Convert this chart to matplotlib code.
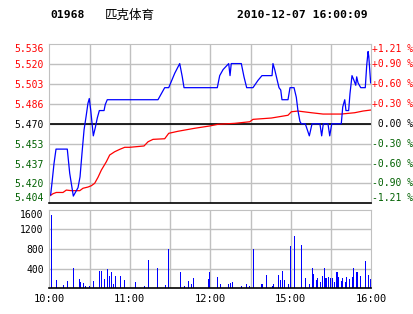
import matplotlib
matplotlib.use("Agg")
import matplotlib.pyplot as plt
import numpy as np

# --------------DATI (minuti dalle 10:00)----------------------
price_t = [1.0, 2.0, 3.5, 5.0, 13.4, 15.2, 16.9, 17.9, 21.4, 22.9, 24.4, 25.9, 27.4, 28.8, 29.8,
           30.9, 31.8, 32.8, 34.3, 35.8, 37.3, 40.8, 41.7, 43.2, 81.0, 86.0, 89.0, 93.5, 97.2,
           99.1, 100.4, 125.2, 127.0, 129.5, 133.7, 134.7, 135.6, 143.1, 145.1, 147.1, 151.8,
           155.5, 158.5, 166.0, 166.7, 168.0, 169.9, 171.2, 172.5, 173.4, 177.9, 179.4, 182.4,
           184.1, 185.3, 186.8, 187.8, 190.8, 193.8, 195.8, 201.7, 203.0, 204.2, 207.7, 209.0,
           210.5, 217.6, 218.7, 220.2, 221.1, 223.1, 224.1, 225.6, 227.1, 228.4, 229.1, 230.1,
           232.1, 235.5, 236.6, 237.6, 238.1, 239.0, 239.5]
price_v = [5.411, 5.421, 5.437, 5.449, 5.449, 5.429, 5.417, 5.410, 5.417, 5.426, 5.446, 5.465,
           5.476, 5.487, 5.491, 5.481, 5.471, 5.460, 5.467, 5.475, 5.481, 5.481, 5.486, 5.490,
           5.490, 5.500, 5.500, 5.512, 5.520, 5.509, 5.500, 5.500, 5.510, 5.515, 5.520, 5.510,
           5.520, 5.520, 5.509, 5.500, 5.500, 5.506, 5.510, 5.510, 5.520, 5.515, 5.506, 5.500,
           5.498, 5.490, 5.490, 5.500, 5.500, 5.492, 5.481, 5.472, 5.470, 5.470, 5.460, 5.470,
           5.470, 5.460, 5.470, 5.470, 5.460, 5.470, 5.470, 5.484, 5.490, 5.481, 5.481, 5.495,
           5.510, 5.506, 5.502, 5.509, 5.504, 5.500, 5.500, 5.519, 5.530, 5.526, 5.512, 5.504]

avg_t = [0.1, 2.8, 5.2, 10.2, 12.7, 16.4, 22.7, 25.1, 28.8, 31.3, 33.8, 36.3, 38.8, 42.5, 45.0,
         48.7, 52.5, 56.2, 59.9, 70.6, 73.6, 77.3, 86.0, 89.0, 95.9, 108.4, 119.5, 125.7, 138.2,
         149.4, 151.8, 165.5, 177.9, 180.4, 185.3, 195.3, 204.0, 217.6, 227.6, 233.8, 240.0]
avg_v = [5.410, 5.412, 5.413, 5.413, 5.415, 5.4145, 5.4145, 5.4165, 5.4175, 5.4186, 5.4206,
         5.4256, 5.4316, 5.4385, 5.4441, 5.4468, 5.4488, 5.4505, 5.4505, 5.4516, 5.4551, 5.4571,
         5.4576, 5.4621, 5.4638, 5.4663, 5.4682, 5.4696, 5.4704, 5.4717, 5.4737, 5.4748, 5.4771,
         5.4800, 5.4806, 5.4792, 5.4781, 5.4781, 5.4792, 5.4806, 5.4815]

vol_t = [1.5, 5.2, 10.4, 13.7, 17.9, 22.4, 23.1, 25.3, 26.8, 29.8, 32.8, 37.3, 38.8, 41.0, 43.2,
         44.7, 46.2, 47.7, 49.2, 52.9, 55.9, 64.1, 70.8, 73.8, 80.5, 86.5, 88.7, 97.6, 100.6,
         103.6, 105.8, 107.3, 118.5, 119.2, 125.2, 127.4, 133.4, 134.9, 136.4, 143.1, 146.8,
         149.1, 152.0, 158.7, 161.7, 166.2, 166.9, 170.7, 172.2, 173.7, 175.1, 178.1, 179.6,
         182.6, 187.8, 190.8, 193.8, 196.0, 196.8, 199.0, 199.7, 202.0, 203.5, 205.0, 206.4,
         207.9, 209.4, 210.9, 212.4, 214.6, 215.4, 217.6, 218.4, 220.6, 221.4, 223.6, 225.8,
         226.6, 228.8, 229.5, 231.8, 235.5, 237.8, 239.2]
vol_v = [1500, 175, 70, 140, 406, 196, 126, 105, 50, 50, 140, 343, 343, 196, 385, 245, 329, 91,
         245, 259, 175, 133, 50, 574, 406, 70, 805, 322, 50, 154, 91, 217, 196, 322, 238, 91, 91,
         112, 133, 50, 91, 50, 805, 91, 280, 50, 91, 280, 175, 343, 161, 91, 868, 1057, 889, 217,
         91, 406, 301, 175, 217, 133, 259, 406, 217, 238, 217, 217, 133, 322, 238, 154, 217, 133,
         238, 196, 238, 406, 238, 322, 259, 553, 280, 196]

prev_close = 5.470
price_labels = ["5.536", "5.520", "5.503", "5.486", "5.470", "5.453", "5.437", "5.420", "5.404"]
pct_labels = ["+1.21 %", "+0.90 %", "+0.60 %", "+0.30 %", " 0.00 %", "-0.30 %", "-0.60 %", "-0.90 %", "-1.21 %"]
vol_ticks = [400, 800, 1200, 1600]
time_ticks = [0, 60, 120, 180, 240]
time_labels = ["10:00", "11:00", "12:00", "15:00", "16:00"]

GRAY = "#c0c0c0"
RED = "#ff0000"
GREEN = "#006000"
MONO = "DejaVu Sans Mono"
FS = 7.0

price_ticks = np.linspace(5.536, 5.404, 9)

fig = plt.figure(figsize=(4.14, 3.14), dpi=100)
ax1 = fig.add_axes([0.1191, 0.3525, 0.7778, 0.5064])
ax2 = fig.add_axes([0.1191, 0.0818, 0.7778, 0.2503])

# --------------PANNELLO PREZZO----------------------
ax1.set_xlim(0, 240)
ax1.set_ylim(5.404, 5.536)
for t in range(30, 240, 30):
    ax1.axvline(t, color=GRAY, lw=1.0, zorder=0)
for p in price_ticks[1:-1]:
    ax1.axhline(p, color=GRAY, lw=1.0, zorder=0)
ax1.axhline(prev_close, color="black", lw=1.2, zorder=1)

ax1.plot(avg_t, avg_v, color=RED, lw=0.9, zorder=2)
ax1.plot(price_t, price_v, color="#0000ff", lw=0.9, zorder=3)

for s in ["left", "top", "right"]:
    ax1.spines[s].set_color(GRAY)
ax1.spines["bottom"].set_color("black")
ax1.spines["bottom"].set_linewidth(1.2)
ax1.set_xticks([])
ax1.set_yticks(price_ticks)
ax1.set_yticklabels(price_labels, family=MONO, fontsize=FS)
ax1.tick_params(axis="y", length=0, pad=4)
labs = ax1.get_yticklabels()
for i, lab in enumerate(labs):
    lab.set_color(RED if i < 4 else ("black" if i == 4 else GREEN))
labs[0].set_va("top")
labs[-1].set_va("bottom")

# percentuali sul lato destro
trans = ax1.get_yaxis_transform()
for i, (p, lab) in enumerate(zip(price_ticks, pct_labels)):
    c = RED if i < 4 else ("black" if i == 4 else GREEN)
    va = "top" if i == 0 else ("bottom" if i == len(pct_labels) - 1 else "center")
    ax1.text(1.003, p, lab, transform=trans, ha="left", va=va,
             family=MONO, fontsize=FS, color=c)

# --------------PANNELLO VOLUME----------------------
ax2.set_xlim(0, 240)
ax2.set_ylim(0, 1600)
for t in range(30, 240, 30):
    ax2.axvline(t, color=GRAY, lw=1.0, zorder=0)
for v in vol_ticks[:-1]:
    ax2.axhline(v, color=GRAY, lw=1.0, zorder=0)
ax2.bar(vol_t, vol_v, width=1.1, color="#0000ff", linewidth=0, zorder=2)

for s in ["left", "top", "right"]:
    ax2.spines[s].set_color(GRAY)
ax2.spines["bottom"].set_color("black")
ax2.spines["bottom"].set_linewidth(1.2)
ax2.set_yticks(vol_ticks)
ax2.set_yticklabels([str(v) for v in vol_ticks], family=MONO, fontsize=FS)
ax2.get_yticklabels()[-1].set_va("top")
ax2.set_xticks(time_ticks)
ax2.set_xticklabels(time_labels, family=MONO, fontsize=FS + 0.5)
ax2.tick_params(length=0, pad=4)

# --------------TITOLO----------------------
fig.text(0.121, 0.952, "01968", family=MONO, weight="bold", fontsize=8.2, va="center")
fig.text(0.254, 0.952, "匹克体育", family=["Noto Sans CJK SC", "DejaVu Sans"], fontsize=9, va="center")
fig.text(0.572, 0.952, "2010-12-07 16:00:09", family=MONO, weight="bold", fontsize=8.2, va="center")

plt.savefig("out.png", dpi=100)
